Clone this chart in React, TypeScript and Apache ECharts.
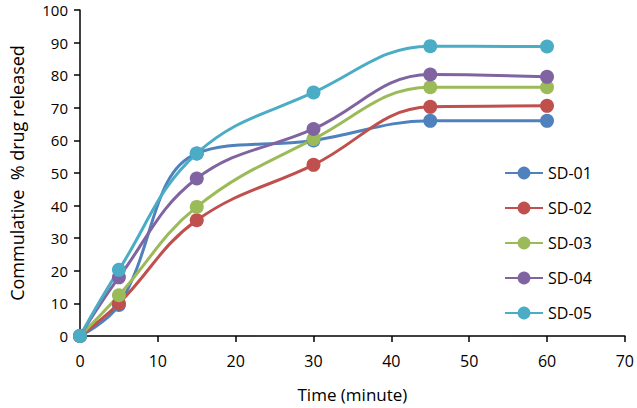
import React, { useEffect, useRef } from "react";
import * as echarts from "echarts";

const times = [0, 5, 15, 30, 45, 60];
const seriesNames = ["SD-01", "SD-02", "SD-03", "SD-04", "SD-05"];
const sd01 = [0, 9.5, 56, 60, 66, 66];
const sd02 = [0, 10, 35.5, 52.5, 70.3, 70.6];
const sd03 = [0, 12.5, 39.6, 60.4, 76.3, 76.3];
const sd04 = [0, 18, 48.3, 63.5, 80.2, 79.5];
const sd05 = [0, 20.3, 56, 74.7, 88.9, 88.8];
const colors = ["#4F81BD", "#C0504D", "#9BBB59", "#8064A2", "#4BACC6"];
const xTicks = { min: 0, max: 70, interval: 10 };
const yTicks = { min: 0, max: 100, interval: 10 };

export default function App() {
  const ref = useRef<HTMLDivElement>(null);
  useEffect(() => {
    if (!ref.current) return;
    const chart = echarts.init(ref.current, undefined, { renderer: "svg" });
    const all = [sd01, sd02, sd03, sd04, sd05];
    const font = "Open Sans";
    chart.setOption({
      animation: false,
      backgroundColor: "#ffffff",
      grid: { left: 78, right: 10, top: 10, bottom: 68 },
      legend: {
        orient: "vertical",
        left: 499,
        top: 160,
        itemWidth: 38,
        itemHeight: 16,
        itemGap: 19,
        textStyle: { fontFamily: font, fontSize: 16, color: "#000" },
        data: seriesNames,
      },
      xAxis: {
        type: "value",
        min: xTicks.min,
        max: xTicks.max,
        interval: xTicks.interval,
        name: "Time (minute)",
        nameLocation: "middle",
        nameGap: 50,
        nameTextStyle: { fontFamily: font, fontSize: 17, color: "#000" },
        axisLine: { lineStyle: { color: "#000", width: 1.5 } },
        axisTick: { show: true, inside: false, length: 6, lineStyle: { color: "#000", width: 1.5 } },
        axisLabel: { fontFamily: font, fontSize: 16, color: "#000", margin: 17 },
        splitLine: { show: false },
      },
      yAxis: {
        type: "value",
        min: yTicks.min,
        max: yTicks.max,
        interval: yTicks.interval,
        name: "Commulative  % drug released",
        nameLocation: "middle",
        nameGap: 54,
        nameTextStyle: { fontFamily: font, fontSize: 18, color: "#000" },
        axisLine: { show: true, lineStyle: { color: "#000", width: 1.5 } },
        axisTick: { show: true, inside: false, length: 6, lineStyle: { color: "#000", width: 1.5 } },
        axisLabel: { fontFamily: font, fontSize: 15, lineHeight: 15, color: "#000", margin: 12 },
        splitLine: { show: false },
      },
      series: seriesNames.map((name, i) => ({
        name,
        type: "line",
        smooth: 0.4,
        symbol: "circle",
        symbolSize: 14,
        color: colors[i],
        lineStyle: { width: 3, color: colors[i] },
        itemStyle: { color: colors[i] },
        data: times.map((t, j) => [t, all[i][j]]),
      })),
    });
    return () => chart.dispose();
  }, []);
  return (
    <div
      ref={ref}
      style={{ position: "fixed", left: 0, top: 0, width: 637, height: 408 }}
    />
  );
}
